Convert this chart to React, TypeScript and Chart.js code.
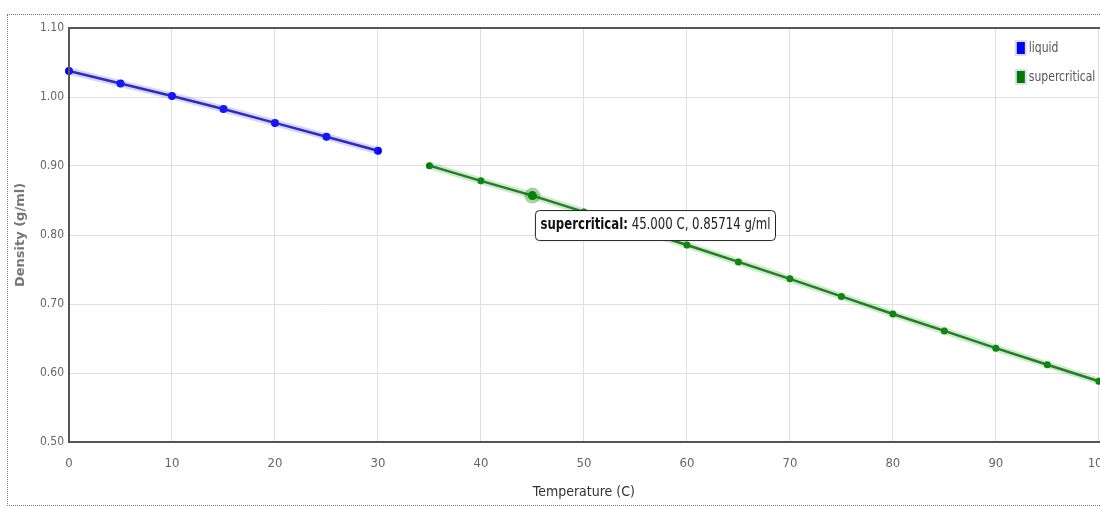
import React, { useEffect, useRef } from "react";
import { Chart, registerables } from "chart.js";

Chart.register(...registerables);

const liquidTemps = [0, 5, 10, 15, 20, 25, 30];
const liquidDensity = [1.0377, 1.0195, 1.0015, 0.9826, 0.9625, 0.9425, 0.922];
const superTemps = [35, 40, 45, 50, 55, 60, 65, 70, 75, 80, 85, 90, 95, 100];
const superDensity = [0.9005, 0.8785, 0.85714, 0.8335, 0.8095, 0.7855, 0.761, 0.7365, 0.711, 0.6855, 0.661, 0.636, 0.612, 0.588];
const seriesNames = ["liquid", "supercritical"];
const xTitle = "Temperature (C)";
const yTitle = "Density (g/ml)";
const tooltipIndex = 2;

const NARROW = "'Liberation Sans Narrow', 'DejaVu Sans Condensed', Roboto, sans-serif";

const pts = (xs: number[], ys: number[]) => xs.map((x, i) => ({ x, y: ys[i] }));

const overlayPlugin = {
  id: "overlay",
  afterDatasetsDraw(chart: any) {
    const ctx = chart.ctx;
    const a = chart.chartArea;
    ctx.save();
    ctx.strokeStyle = "#555";
    ctx.lineWidth = 2;
    ctx.strokeRect(a.left, a.top, a.right - a.left + 20, a.bottom - a.top);
    ctx.restore();
  },
  afterDraw(chart: any) {
    const ctx = chart.ctx;
    const a = chart.chartArea;
    const xs = chart.scales.x;
    const ys = chart.scales.y;
    ctx.save();
    // legend
    const colors = ["#0000ff", "#007a00"];
    const lx = a.right - 83;
    seriesNames.forEach((name, i) => {
      const cy = a.top + 20 + i * 29;
      ctx.fillStyle = "rgba(200,200,230,0.6)";
      ctx.fillRect(lx - 1, cy - 8, 12, 16);
      ctx.fillStyle = colors[i];
      ctx.fillRect(lx + 1, cy - 6, 8, 12);
      ctx.fillStyle = "#555";
      ctx.font = `14px ${NARROW}`;
      ctx.textBaseline = "middle";
      ctx.textAlign = "left";
      ctx.save();
      ctx.translate(lx + 13, cy);
      ctx.scale(0.86, 1);
      ctx.fillText(name, 0, 0);
      ctx.restore();
    });
    // hover highlight
    const px = xs.getPixelForValue(superTemps[tooltipIndex]);
    const py = ys.getPixelForValue(superDensity[tooltipIndex]);
    ctx.beginPath();
    ctx.arc(px, py, 8, 0, Math.PI * 2);
    ctx.fillStyle = "rgba(0,128,0,0.35)";
    ctx.fill();
    ctx.beginPath();
    ctx.arc(px, py, 4.5, 0, Math.PI * 2);
    ctx.fillStyle = "#0a800a";
    ctx.fill();
    // tooltip
    const sx = 0.87;
    const bold = "supercritical:";
    const rest = ` ${superTemps[tooltipIndex].toFixed(3)} C, ${superDensity[tooltipIndex].toFixed(5)} g/ml`;
    ctx.font = `bold 15px ${NARROW}`;
    const wb = ctx.measureText(bold).width * sx;
    ctx.font = `15px ${NARROW}`;
    const wr = ctx.measureText(rest).width * sx;
    const bx = px + 3;
    const by = py + 15;
    const bw = wb + wr + 10;
    const bh = 30;
    ctx.beginPath();
    ctx.roundRect(bx, by, bw, bh, 4);
    ctx.fillStyle = "#fff";
    ctx.fill();
    ctx.strokeStyle = "#222";
    ctx.lineWidth = 1;
    ctx.stroke();
    ctx.textBaseline = "middle";
    ctx.textAlign = "left";
    ctx.save();
    ctx.translate(bx + 5, by + bh / 2);
    ctx.scale(sx, 1);
    ctx.fillStyle = "#111";
    ctx.font = `bold 15px ${NARROW}`;
    ctx.fillText(bold, 0, 0);
    ctx.font = `15px ${NARROW}`;
    ctx.fillStyle = "#222";
    ctx.fillText(rest, wb / sx, 0);
    ctx.restore();
    ctx.restore();
  },
};

export default function App() {
  const ref = useRef<HTMLCanvasElement>(null);
  useEffect(() => {
    if (!ref.current) return;
    const chart = new Chart(ref.current, {
      type: "scatter",
      data: {
        datasets: [
          {
            label: "liquid-halo",
            data: pts(liquidTemps, liquidDensity),
            showLine: true,
            borderColor: "rgba(90,90,255,0.25)",
            borderWidth: 7,
            pointRadius: 0,
          },
          {
            label: "supercritical-halo",
            data: pts(superTemps, superDensity),
            showLine: true,
            borderColor: "rgba(60,170,60,0.25)",
            borderWidth: 7,
            pointRadius: 0,
          },
          {
            label: seriesNames[0],
            data: pts(liquidTemps, liquidDensity),
            showLine: true,
            borderColor: "#1c1ca8",
            borderWidth: 2.5,
            pointRadius: 4,
            pointBackgroundColor: "#0000ff",
            pointBorderWidth: 0,
          },
          {
            label: seriesNames[1],
            data: pts(superTemps, superDensity),
            showLine: true,
            borderColor: "#1c6e1c",
            borderWidth: 2.5,
            pointRadius: 3.5,
            pointBackgroundColor: "#007a00",
            pointBorderWidth: 0,
          },
        ],
      },
      options: {
        animation: false,
        responsive: false,
        clip: false as any,
        layout: { padding: { top: 13, right: 0, left: 0, bottom: 0 } },
        plugins: { legend: { display: false }, tooltip: { enabled: false } },
        events: [],
        scales: {
          x: {
            type: "linear",
            min: 0,
            max: 100,
            afterFit: (s: any) => {
              s.height = 62;
            },
            ticks: {
              stepSize: 10,
              padding: 14,
              color: "#666",
              font: { family: NARROW, size: 13 },
            },
            grid: { color: "#e0e0e0", drawTicks: false },
            border: { display: false },
            title: {
              display: true,
              text: xTitle,
              color: "#333",
              font: { family: NARROW, size: 14 },
              padding: { top: 4, bottom: 3 },
            },
          },
          y: {
            type: "linear",
            min: 0.5,
            max: 1.1,
            afterFit: (s: any) => {
              s.width = 60;
            },
            ticks: {
              stepSize: 0.1,
              padding: 5,
              color: "#666",
              font: { family: NARROW, size: 12 },
              callback: (v: any) => Number(v).toFixed(2),
            },
            grid: { color: "#e0e0e0", drawTicks: false },
            border: { display: false },
            title: {
              display: true,
              text: yTitle,
              color: "#777",
              font: { family: "'DejaVu Sans', sans-serif", size: 13, weight: "bold" },
              padding: { top: 4, bottom: 0 },
            },
          },
        },
      },
      plugins: [overlayPlugin],
    });
    return () => chart.destroy();
  }, []);

  return (
    <div
      style={{
        position: "absolute",
        left: 0,
        top: 0,
        width: 1100,
        height: 507,
        overflow: "hidden",
        background: "#fff",
      }}
    >
      <div
        style={{
          position: "absolute",
          left: 7,
          top: 14,
          width: 1125,
          height: 490,
          border: "1px dotted #777",
        }}
      >
        <canvas ref={ref} width={1115} height={489} style={{ display: "block", marginLeft: 1 }} />
      </div>
    </div>
  );
}
